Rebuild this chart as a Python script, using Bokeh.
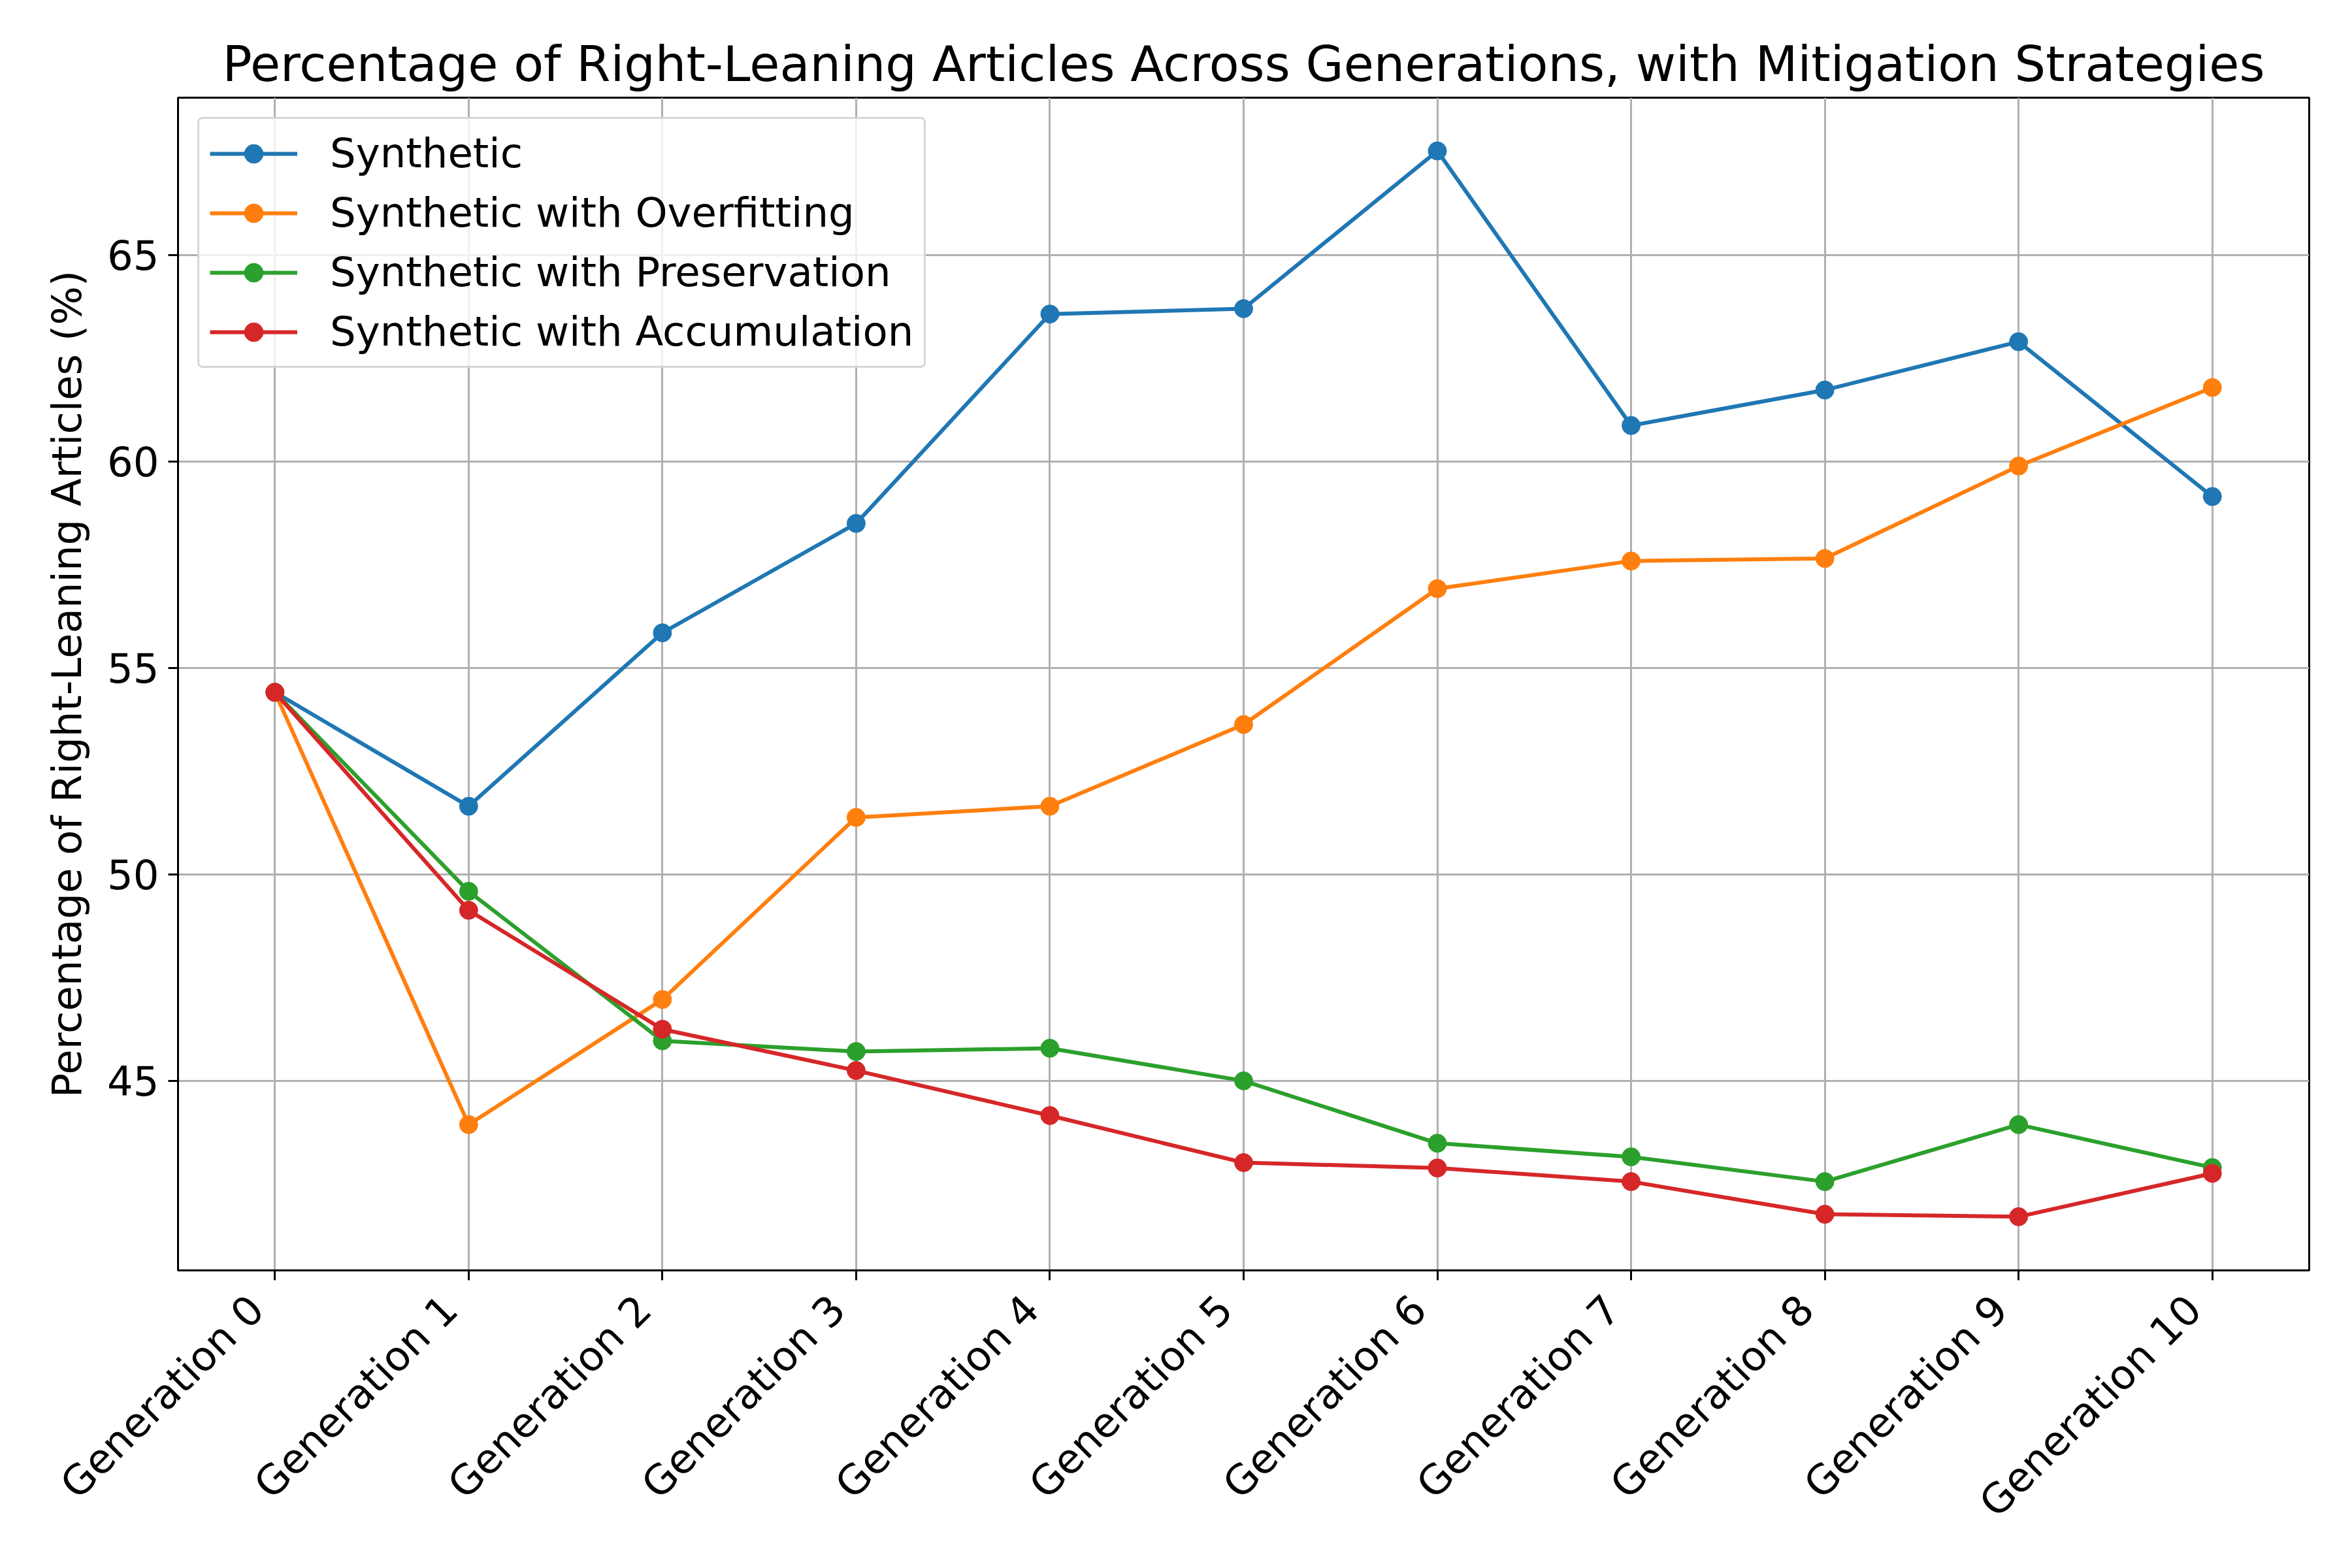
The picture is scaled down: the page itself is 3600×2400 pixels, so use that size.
import math
from bokeh.plotting import figure
from bokeh.models import Range1d, FixedTicker, Legend, LegendItem
from bokeh.embed import file_html
from bokeh.resources import INLINE

categories = ["Generation %d" % i for i in range(11)]
xs = list(range(11))

synthetic = [54.41, 51.65, 55.85, 58.50, 63.57, 63.70, 67.52, 60.87, 61.73, 62.90, 59.15]
overfitting = [54.41, 43.94, 46.97, 51.38, 51.65, 53.63, 56.92, 57.59, 57.65, 59.89, 61.79]
preservation = [54.41, 49.59, 45.97, 45.71, 45.79, 45.00, 43.49, 43.16, 42.56, 43.94, 42.90]
accumulation = [54.41, 49.13, 46.25, 45.25, 44.16, 43.02, 42.89, 42.56, 41.77, 41.71, 42.76]

series_names = ["Synthetic", "Synthetic with Overfitting",
                "Synthetic with Preservation", "Synthetic with Accumulation"]
series_values = [synthetic, overfitting, preservation, accumulation]
colors = ["#1f77b4", "#ff7f0e", "#2ca02c", "#d62728"]
y_ticks = [45, 50, 55, 60, 65]

FONT = "DejaVu Sans"
FS = "62.5px"
PAD = "\u00a0\u00a0"  # keeps rotated labels' ends clear of the ticks, as in the original

p = figure(
    frame_width=3262, frame_height=1795,
    min_border_left=272, min_border_right=50, min_border_top=149, min_border_bottom=440,
    x_range=Range1d(-0.5, 10.5), y_range=Range1d(40.41, 68.81),
    output_backend="svg", toolbar_location=None,
    title="Percentage of Right-Leaning Articles Across Generations, with Mitigation Strategies",
)
p.title.text_font = FONT
p.title.text_font_size = "75px"
p.title.text_font_style = "normal"
p.title.align = "center"
p.title.text_color = "black"
p.title.standoff = 15

p.outline_line_color = "black"
p.outline_line_width = 3
p.outline_line_alpha = 1.0

items = []
for name, vals, c in zip(series_names, series_values, colors):
    r1 = p.line(xs, vals, line_color=c, line_width=6)
    r2 = p.scatter(xs, vals, marker="circle", size=28, fill_color=c, line_color=c)
    items.append(LegendItem(label=name, renderers=[r1, r2]))

legend = Legend(items=items, location="top_left")
legend.margin = 30
legend.padding = 16
legend.spacing = 18
legend.glyph_width = 134
legend.glyph_height = 72
legend.label_standoff = 50
legend.label_text_font = FONT
legend.label_text_font_size = FS
legend.label_text_color = "black"
legend.border_line_color = "#cccccc"
legend.border_line_alpha = 0.8
legend.border_line_width = 3
legend.background_fill_alpha = 0.8
try:
    legend.border_radius = 8
except Exception:
    pass
p.add_layout(legend)

p.xaxis.ticker = FixedTicker(ticks=xs)
p.xaxis.major_label_overrides = {x: lab + PAD for x, lab in zip(xs, categories)}
p.xaxis.major_label_orientation = math.pi / 4
p.yaxis.ticker = FixedTicker(ticks=y_ticks)
p.yaxis.axis_label = "Percentage of Right-Leaning Articles (%)"

for ax in (p.xaxis, p.yaxis):
    ax.major_label_text_font = FONT
    ax.major_label_text_font_size = FS
    ax.major_label_text_color = "black"
    ax.axis_label_text_font = FONT
    ax.axis_label_text_font_size = FS
    ax.axis_label_text_font_style = "normal"
    ax.axis_label_text_color = "black"
    ax.axis_line_color = "black"
    ax.axis_line_width = 3
    ax.major_tick_line_color = "black"
    ax.major_tick_line_width = 3
    ax.major_tick_out = 15
    ax.major_tick_in = 0
    ax.minor_tick_line_color = None
p.yaxis.major_label_standoff = 14
p.xaxis.major_label_standoff = 6
p.yaxis.axis_label_standoff = 22

p.xgrid.ticker = FixedTicker(ticks=xs)
p.ygrid.ticker = FixedTicker(ticks=y_ticks)
for g in (p.xgrid, p.ygrid):
    g.grid_line_color = "#b0b0b0"
    g.grid_line_width = 3

open("out.html", "w").write(file_html(p, INLINE))
